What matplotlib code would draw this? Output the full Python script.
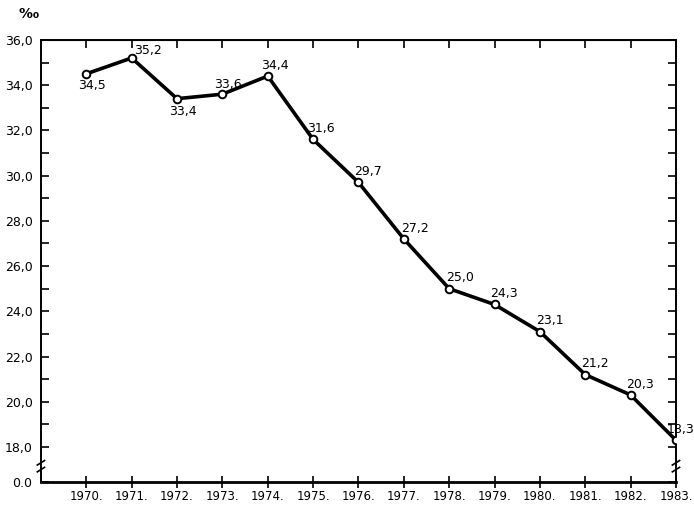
import matplotlib
matplotlib.use("Agg")
import matplotlib.pyplot as plt

# data (per mille)
years = [1970, 1971, 1972, 1973, 1974, 1975, 1976, 1977, 1978, 1979, 1980, 1981, 1982, 1983]
rates = [34.5, 35.2, 33.4, 33.6, 34.4, 31.6, 29.7, 27.2, 25.0, 24.3, 23.1, 21.2, 20.3, 18.3]
# label offsets in points (dx, dy) for each value label
label_offsets = [(-6, -13), (2, 1), (-6, -14), (-6, 2), (-5, 3), (-4, 3), (-3, 3),
                 (-2, 3), (-2, 3), (-3, 3), (-3, 3), (-3, 3), (-3, 3), (-7, 3)]
y_ticks = [18, 20, 22, 24, 26, 28, 30, 32, 34, 36]

# position where the "0.0" level sits below the axis break
y_zero_pos = 16.45

fig = plt.figure(figsize=(6.94, 5.05), dpi=100)
ax = fig.add_axes([0.059, 0.0455, 0.915, 0.8755])

ax.plot(years, rates, color='black', lw=2.6, marker='o', ms=5.5,
        mfc='white', mec='black', mew=1.4, zorder=3)

for x, y, (dx, dy) in zip(years, rates, label_offsets):
    ax.annotate(f"{y:.1f}".replace('.', ','), (x, y), xytext=(dx, dy),
                textcoords='offset points', fontsize=9, ha='left', va='bottom')

ax.set_xlim(1969, 1983)
ax.set_ylim(y_zero_pos, 36)

ax.set_xticks(years)
ax.set_xticklabels([f"{y}." for y in years], fontsize=8.5)
ax.set_yticks([y_zero_pos] + y_ticks)
ax.set_yticklabels(["0.0"] + [f"{v:.1f}".replace('.', ',') for v in y_ticks], fontsize=9)
ax.set_yticks(list(range(19, 36, 2)), minor=True)

ax.tick_params(axis='x', direction='inout', length=9, width=1.2, pad=1)
ax.tick_params(axis='y', which='both', direction='in', length=6, width=1.2,
               right=True, pad=6)

top = ax.secondary_xaxis('top')
top.set_xticks(years)
top.tick_params(direction='in', length=6, width=1.2, labeltop=False)

for s in ax.spines.values():
    s.set_linewidth(1.4)
ax.spines['bottom'].set_linewidth(2)

# axis break marks
for xb in (0, 1):
    for yb in (17.0, 17.3):
        ax.plot([1969 + xb * 14 - 0.08, 1969 + xb * 14 + 0.08], [yb - 0.1, yb + 0.1],
                color='black', lw=1.2, clip_on=False)

fig.text(0.026, 0.965, "‰", fontsize=10, fontweight='bold')

fig.savefig("out.png", dpi=100)
